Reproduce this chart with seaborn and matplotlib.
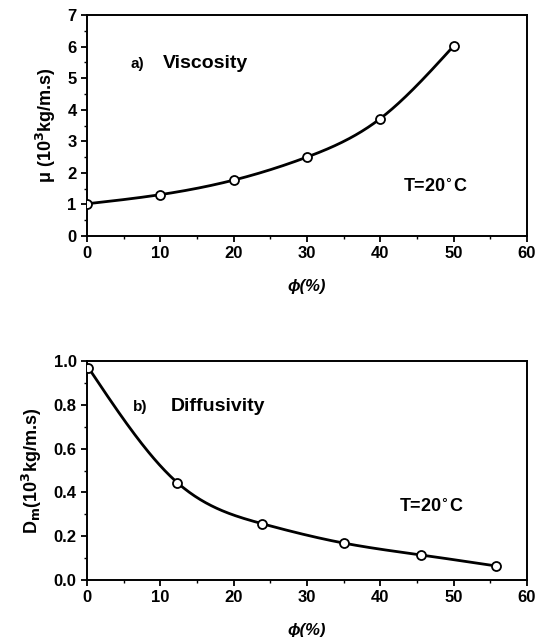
import numpy as np
import pandas as pd
import matplotlib
matplotlib.use("Agg")
import matplotlib.pyplot as plt
import seaborn as sns
from matplotlib.ticker import MultipleLocator

# ---- data ----
phi_visc = [0, 10, 20, 30, 40, 50]
mu_visc = [1.02, 1.31, 1.77, 2.50, 3.72, 6.02]

phi_diff = [0.2, 12.3, 23.9, 35.1, 45.6, 55.8]
d_diff = [0.969, 0.445, 0.257, 0.168, 0.114, 0.064]

x_ticks = [0, 10, 20, 30, 40, 50, 60]
y_ticks_a = [0, 1, 2, 3, 4, 5, 6, 7]
y_ticks_b = [0.0, 0.2, 0.4, 0.6, 0.8, 1.0]

sns.set_theme(style="ticks")
plt.rcParams['font.family'] = ['Liberation Sans', 'DejaVu Sans']
plt.rcParams['font.weight'] = 'bold'
plt.rcParams['mathtext.default'] = 'bf'
plt.rcParams['text.color'] = 'black'
plt.rcParams['axes.labelcolor'] = 'black'
plt.rcParams['xtick.color'] = 'black'
plt.rcParams['ytick.color'] = 'black'


def spline(x, y, n=300):
    """Natural cubic spline used only to render a smooth curve through the points."""
    x = np.asarray(x, float); y = np.asarray(y, float)
    m = len(x); h = np.diff(x)
    A = np.zeros((m, m)); r = np.zeros(m)
    A[0, 0] = A[-1, -1] = 1
    for i in range(1, m - 1):
        A[i, i - 1] = h[i - 1]; A[i, i] = 2 * (h[i - 1] + h[i]); A[i, i + 1] = h[i]
        r[i] = 6 * ((y[i + 1] - y[i]) / h[i] - (y[i] - y[i - 1]) / h[i - 1])
    M = np.linalg.solve(A, r)
    xs = np.linspace(x[0], x[-1], n)
    idx = np.clip(np.searchsorted(x, xs) - 1, 0, m - 2)
    x0, x1 = x[idx], x[idx + 1]; hh = x1 - x0
    ys = (M[idx] * (x1 - xs) ** 3 / (6 * hh) + M[idx + 1] * (xs - x0) ** 3 / (6 * hh)
          + (y[idx] / hh - M[idx] * hh / 6) * (x1 - xs) + (y[idx + 1] / hh - M[idx + 1] * hh / 6) * (xs - x0))
    return xs, ys


fig = plt.figure(figsize=(5.35, 6.37), dpi=100)
ax1 = fig.add_axes([87 / 535, 1 - 236 / 637, 440 / 535, 221 / 637])
ax2 = fig.add_axes([87 / 535, 1 - 580 / 637, 440 / 535, 219 / 637])


def draw(ax, xs_, ys_, yticks, ylim, yminor):
    sx, sy = spline(xs_, ys_)
    sns.lineplot(x=sx, y=sy, ax=ax, color='black', linewidth=2.0, sort=False)
    sns.scatterplot(x=xs_, y=ys_, ax=ax, s=42, marker='o', facecolor='white',
                    edgecolor='black', linewidth=1.3, zorder=5)
    ax.set_xlim(0, 60)
    ax.set_ylim(*ylim)
    ax.set_xticks(x_ticks)
    ax.set_yticks(yticks)
    ax.xaxis.set_minor_locator(MultipleLocator(5))
    ax.yaxis.set_minor_locator(MultipleLocator(yminor))
    ax.tick_params(which='major', direction='out', length=4, width=1.3, labelsize=12)
    ax.tick_params(which='minor', direction='out', length=2, width=1)
    for lab in ax.get_xticklabels() + ax.get_yticklabels():
        lab.set_fontweight('bold')
    for s in ax.spines.values():
        s.set_linewidth(1.4)
        s.set_color('black')
    ax.set_xlabel('ϕ(%)', fontsize=12, fontweight='bold', fontstyle='italic', labelpad=13)


draw(ax1, phi_visc, mu_visc, y_ticks_a, (0, 7), 0.5)
ax1.set_yticklabels([str(v) for v in y_ticks_a])
ax1.set_ylabel('μ (10$^{3}$kg/m.s)', fontsize=13, fontweight='bold', labelpad=7)
ax1.text(0.098, 0.78, 'a)', transform=ax1.transAxes, fontsize=11, fontweight='bold', va='center')
ax1.text(0.173, 0.78, 'Viscosity', transform=ax1.transAxes, fontsize=14, fontweight='bold', va='center')
ax1.text(0.718, 0.222, 'T=20$^{\\circ}$C', transform=ax1.transAxes, fontsize=13, fontweight='bold', va='center')

draw(ax2, phi_diff, d_diff, y_ticks_b, (0, 1.0), 0.1)
ax2.set_yticklabels([f'{v:.1f}' for v in y_ticks_b])
ax2.set_ylabel('D$_m$(10$^{3}$kg/m.s)', fontsize=13, fontweight='bold', labelpad=7)
ax2.text(0.105, 0.79, 'b)', transform=ax2.transAxes, fontsize=11, fontweight='bold', va='center')
ax2.text(0.19, 0.79, 'Diffusivity', transform=ax2.transAxes, fontsize=14, fontweight='bold', va='center')
ax2.text(0.709, 0.33, 'T=20$^{\\circ}$C', transform=ax2.transAxes, fontsize=13, fontweight='bold', va='center')

fig.savefig('out.png', dpi=100, facecolor='white')
